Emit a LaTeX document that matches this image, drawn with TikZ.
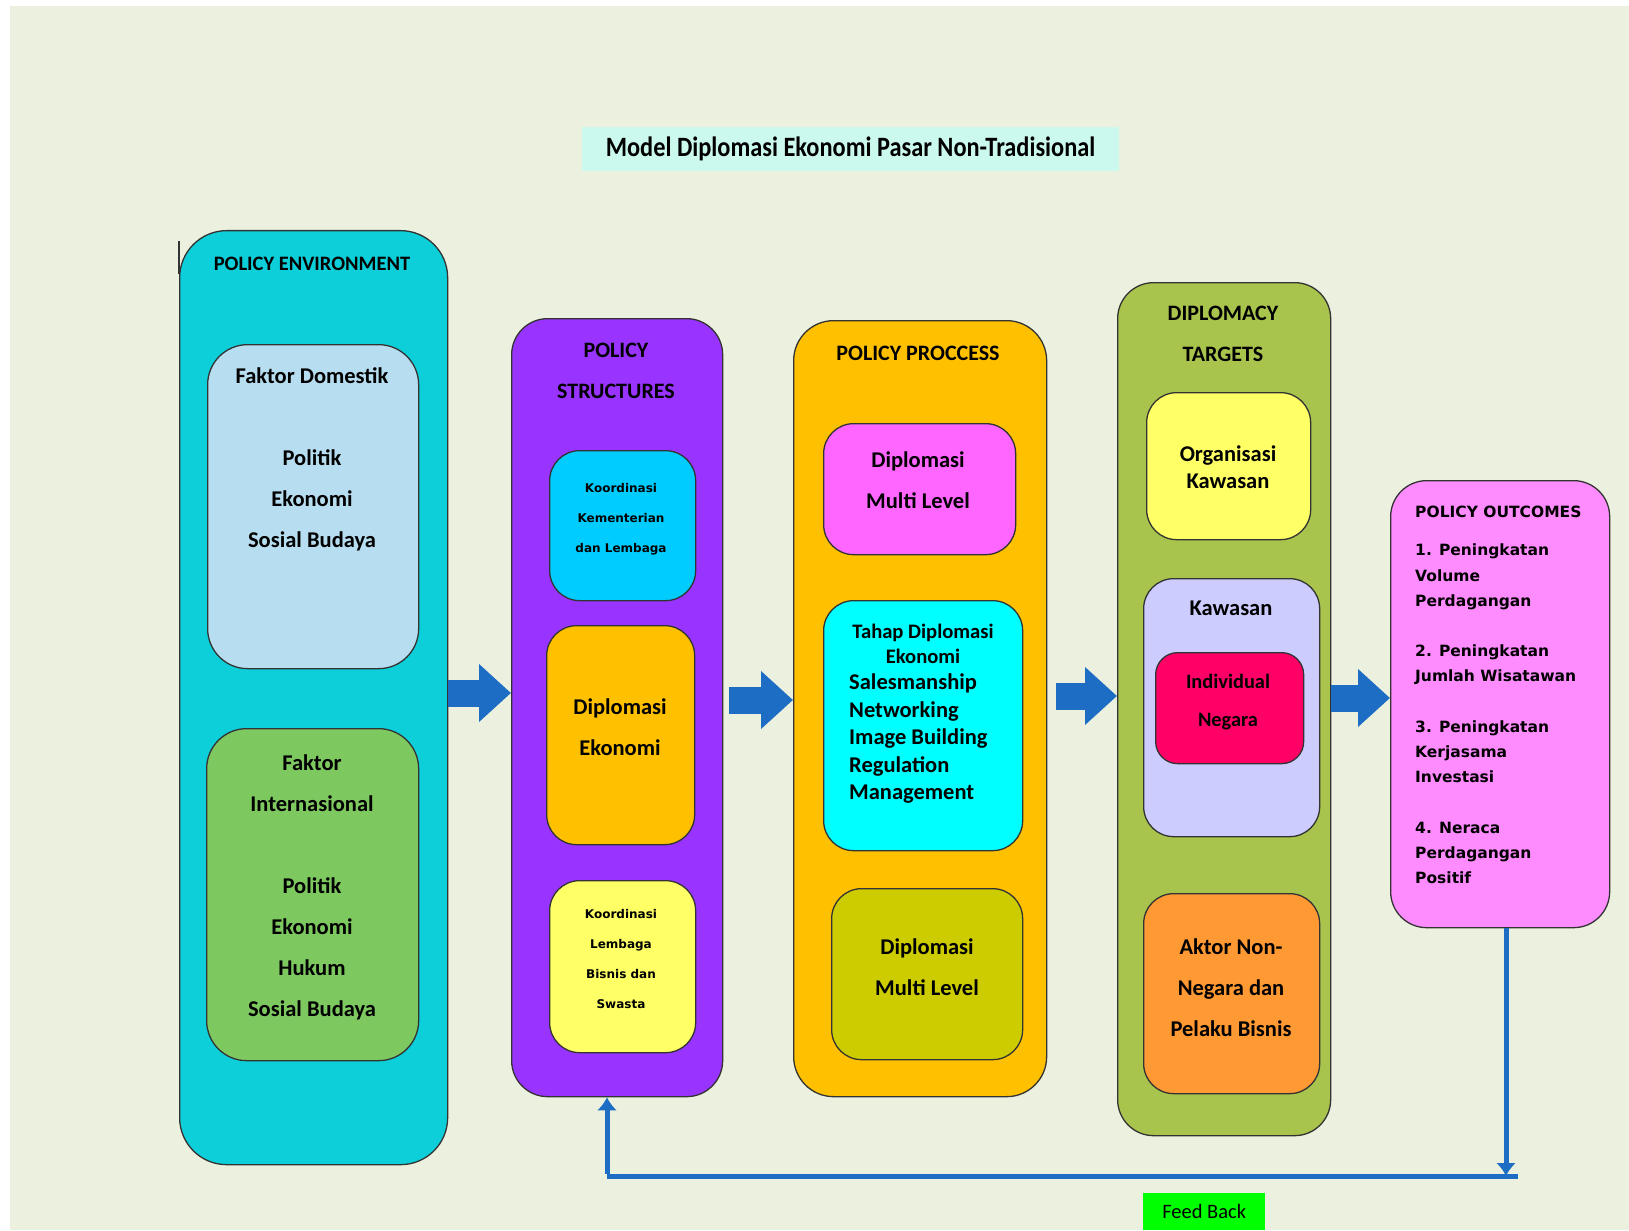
\documentclass[tikz,border=0pt]{standalone}
\usepackage{fontspec}
\setmainfont{Carlito}
\newfontfamily\wideface{DejaVu Sans}
\usepackage{xcolor}
\usetikzlibrary{arrows.meta,positioning}

\definecolor{bgcol}{HTML}{EBF1DE}
\definecolor{titlefill}{HTML}{CCF9EE}
\definecolor{envfill}{HTML}{0CCFD9}
\definecolor{domfill}{HTML}{B6DDF0}
\definecolor{intfill}{HTML}{7EC860}
\definecolor{structfill}{HTML}{9933FF}
\definecolor{koorfill}{HTML}{00CCFF}
\definecolor{orangefill}{HTML}{FFC000}
\definecolor{lightyellow}{HTML}{FFFF66}
\definecolor{pinkfill}{HTML}{FF66FF}
\definecolor{cyanfill}{HTML}{00FFFF}
\definecolor{olivefill}{HTML}{CCCC00}
\definecolor{targfill}{HTML}{A8C44C}
\definecolor{lavfill}{HTML}{CCCCFF}
\definecolor{crimsonfill}{HTML}{FF0066}
\definecolor{aktorfill}{HTML}{FF9933}
\definecolor{outfill}{HTML}{FF8CFF}
\definecolor{arrowblue}{HTML}{1D6DC4}
\definecolor{fbgreen}{HTML}{00FF00}

\newcommand{\fsz}[2]{\fontsize{#1}{#2}\selectfont}

\begin{document}
\begin{tikzpicture}[
  x=1pt, y=-1pt,
  colbox/.style={draw=black!80, line width=1.3pt, rounded corners=36pt, anchor=north west, inner sep=0pt},
  inbox/.style={draw=black!80, line width=1.3pt, rounded corners=30pt, anchor=north west, inner sep=0pt},
  head/.style={font=\fsz{22}{41}\bfseries, align=center, inner sep=0pt},
  body/.style={font=\fsz{22.5}{41}\bfseries, align=center, inner sep=0pt},
  small/.style={font=\wideface\fsz{12}{30}\bfseries, align=center, inner sep=0pt},
  bigarrow/.style={line width=27pt, draw=arrowblue, -{Triangle[length=32pt,width=56pt]}},
  fbline/.style={line width=5pt, draw=arrowblue},
  fbtip/.style={-{Latex[length=13pt,width=20pt]}}
]

% background
\fill[white] (0,0) rectangle (1629,1230);
\fill[bgcol] (10,6) rectangle (1629,1230);

\node[fill=titlefill, minimum width=537pt, minimum height=44pt, inner sep=0pt] (title) at (850.5,149) {\scalebox{0.87}[1]{\fsz{28}{30}\bfseries Model Diplomasi Ekonomi Pasar Non-Tradisional}};

% policy environment
\node[colbox, rounded corners=47pt, fill=envfill, minimum width=268pt, minimum height=934pt] (env) at (179,230) {};
\draw[black!80, line width=1.3pt] (179,241) -- (179,274);
\node[head, font=\fsz{20.5}{41}\bfseries] (envT) at (312,264) {POLICY ENVIRONMENT};
\node[inbox, rounded corners=40pt, fill=domfill, minimum width=211pt, minimum height=324pt] (dom) at (207,344) {};
\node[body] (domT) at (312,459) {Faktor Domestik\\[41pt]Politik\\Ekonomi\\Sosial Budaya};
\node[inbox, rounded corners=40pt, fill=intfill, minimum width=212pt, minimum height=332pt] (intl) at (206,728) {};
\node[body] (intlT) at (312,887) {Faktor\\Internasional\\[41pt]Politik\\Ekonomi\\Hukum\\Sosial Budaya};

% policy structures
\node[colbox, fill=structfill, minimum width=211pt, minimum height=778pt] (struct) at (511,318) {};
\node[head] (structT) at (616,371) {POLICY\\STRUCTURES};
\node[inbox, fill=koorfill, minimum width=146pt, minimum height=150pt] (kmtr) at (549,450) {};
\node[small] (kmtrT) at (621,519) {Koordinasi\\Kementerian\\dan Lembaga};
\node[inbox, fill=orangefill, minimum width=148pt, minimum height=219pt] (ekon) at (546,625) {};
\node[body] (ekonT) at (620,727) {Diplomasi\\Ekonomi};
\node[inbox, fill=lightyellow, minimum width=146pt, minimum height=172pt] (bisnis) at (549,880) {};
\node[small] (bisnisT) at (621,959) {Koordinasi\\Lembaga\\Bisnis dan\\Swasta};

% policy proccess
\node[colbox, rounded corners=40pt, fill=orangefill, minimum width=253pt, minimum height=776pt] (proc) at (793,320) {};
\node[head] (procT) at (918,353) {POLICY PROCCESS};
\node[inbox, fill=pinkfill, minimum width=192pt, minimum height=131pt] (multiA) at (823,423) {};
\node[body] (multiAT) at (918,480) {Diplomasi\\Multi Level};
\node[inbox, fill=cyanfill, minimum width=199pt, minimum height=250pt] (tahap) at (823,600) {};
\node[body, font=\fsz{20.6}{25}\bfseries] (tahapT) at (923,644) {Tahap Diplomasi\\Ekonomi};
\node[body, align=left, anchor=west, font=\fsz{22.5}{27.5}\bfseries] (tahapL) at (849,739) {Salesmanship\\Networking\\Image Building\\Regulation\\Management};
\node[inbox, fill=olivefill, minimum width=191pt, minimum height=171pt] (multiB) at (831,888) {};
\node[body] (multiBT) at (927,967) {Diplomasi\\Multi Level};

% diplomacy targets
\node[colbox, fill=targfill, minimum width=213pt, minimum height=853pt] (targ) at (1117,282) {};
\node[head] (targT) at (1223,334) {DIPLOMACY\\TARGETS};
\node[inbox, fill=lightyellow, minimum width=164pt, minimum height=147pt] (org) at (1146,392) {};
\node[body, font=\fsz{22.5}{27}\bfseries] (orgT) at (1228,467) {Organisasi\\Kawasan};
\node[inbox, fill=lavfill, minimum width=176pt, minimum height=258pt] (kaw) at (1143,578) {};
\node[body] (kawT) at (1231,608) {Kawasan};
\node[inbox, rounded corners=22pt, fill=crimsonfill, minimum width=148pt, minimum height=111pt] (indiv) at (1155,652) {};
\node[body, font=\fsz{20.4}{38}\bfseries] (indivT) at (1228,702) {Individual\\Negara};
\node[inbox, fill=aktorfill, minimum width=176pt, minimum height=200pt] (aktor) at (1143,893) {};
\node[body] (aktorT) at (1231,988) {Aktor Non-\\Negara dan\\Pelaku Bisnis};

% policy outcomes
\node[colbox, fill=outfill, minimum width=219pt, minimum height=447pt] (out) at (1390,480) {};
\node[anchor=west, inner sep=0pt, font=\wideface\fsz{15.5}{25}\bfseries] (outT) at (1415,512) {POLICY OUTCOMES};
\node[anchor=west, align=left, inner sep=0pt, font=\wideface\fsz{15.5}{25.2}\bfseries] (outL) at (1415,714) {1. Peningkatan\\Volume\\Perdagangan\\[25.2pt]2. Peningkatan\\Jumlah Wisatawan\\[25.2pt]3. Peningkatan\\Kerjasama\\Investasi\\[25.2pt]4. Neraca\\Perdagangan\\Positif};

% block arrows
\coordinate (yA) at (0,693);
\coordinate (yB) at (0,700);
\coordinate (yC) at (0,696);
\coordinate (yD) at (0,698);
\draw[bigarrow] (env.east |- yA) -- (struct.west |- yA);
\draw[bigarrow, shorten <=6pt] (struct.east |- yB) -- (proc.west |- yB);
\draw[bigarrow, shorten <=9pt] (proc.east |- yC) -- (targ.west |- yC);
\draw[bigarrow] (targ.east |- yD) -- (out.west |- yD);

% feed back loop
\coordinate (fbR) at (1506,1176);
\coordinate (fbEnd) at (1518,1176);
\coordinate (fbL) at (607,1176);
\draw[fbline, fbtip] (out.south -| fbR) -- (fbR);
\draw[fbline] (fbEnd) -- (fbL);
\draw[fbline, fbtip] ([yshift=2.5pt]fbL) -- (struct.south -| fbL);

\node[fill=fbgreen, minimum width=122pt, minimum height=37pt, anchor=north west, inner sep=0pt, font=\fsz{20.5}{24}] (feedback) at (1143,1193) {Feed Back};

\end{tikzpicture}
\end{document}
